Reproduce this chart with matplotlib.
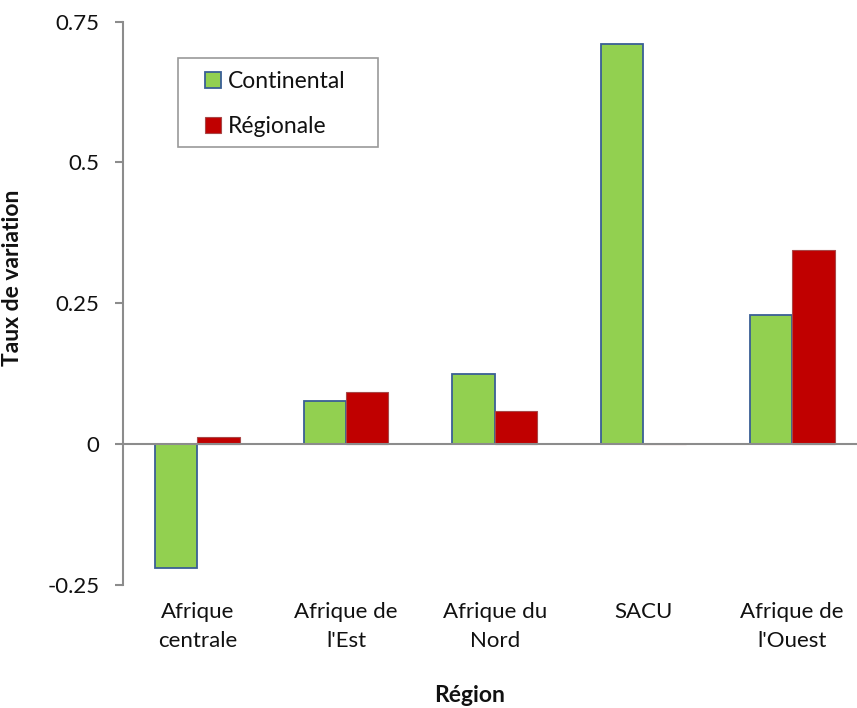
import matplotlib
matplotlib.use("Agg")
import matplotlib.pyplot as plt
from matplotlib.patches import Patch, Rectangle
import numpy as np

plt.rcParams['font.family'] = ['Lato', 'DejaVu Sans']

regions = ["Afrique\ncentrale", "Afrique de\nl'Est", "Afrique du\nNord", "SACU", "Afrique de\nl'Ouest"]
continental = [-0.219, 0.077, 0.125, 0.710, 0.230]
regionale = [0.013, 0.092, 0.059, 0.001, 0.345]
yticks = [-0.25, 0, 0.25, 0.5, 0.75]
ytick_labels = ["-0.25", "0", "0.25", "0.5", "0.75"]

green = "#92d050"
green_edge = "#3a5f95"
red = "#c00000"
red_edge = "#a84848"
axis_grey = "#8c8c8c"
text_col = "#111111"

W, H = 857, 708
ax_l, ax_r, ax_t, ax_b = 123, 857, 21.5, 585

fig = plt.figure(figsize=(W / 100, H / 100), dpi=100)
ax = fig.add_axes([ax_l / W, 1 - ax_b / H, (ax_r - ax_l) / W, (ax_b - ax_t) / H])


def to_axes(px, py):
    return (px - ax_l) / (ax_r - ax_l), (ax_b - py) / (ax_b - ax_t)


x = np.arange(len(regions))
w = 1 / 3.5
ax.bar(x - w / 2, continental, width=w, color=green, edgecolor=green_edge, linewidth=1.3, zorder=3)
ax.bar(x + w / 2, regionale, width=w, color=red, edgecolor=red_edge, linewidth=0.8, zorder=3)

ax.set_xlim(-0.5, 4.437)
ax.set_ylim(-0.25, 0.75)
ax.set_yticks(yticks)
ax.set_yticklabels(ytick_labels)
ax.set_xticks(x)
ax.set_xticklabels(regions, linespacing=1.6)

for s in ["top", "right", "bottom"]:
    ax.spines[s].set_visible(False)
ax.spines["left"].set_color(axis_grey)
ax.spines["left"].set_linewidth(1.5)
ax.axhline(0, color=axis_grey, linewidth=1.5, zorder=4)

ax.tick_params(axis="y", direction="out", length=6, width=1.5, color=axis_grey,
               labelsize=16, pad=11, labelcolor=text_col)
ax.tick_params(axis="x", length=0, labelsize=16, pad=12, labelcolor=text_col)

ax.set_ylabel("Taux de variation", fontsize=16.5, fontweight="bold", color=text_col)
ax.yaxis.set_label_coords(*to_axes(23, 278))
ax.set_xlabel("Région", fontsize=16.5, fontweight="bold", color=text_col, va="bottom")
ax.xaxis.set_label_coords(*to_axes(470, 706))

# legend frame drawn separately so its padding can be wider than tall
fx0, fy0 = to_axes(178, 147)
fx1, fy1 = to_axes(378, 58)
ax.add_patch(Rectangle((fx0, fy0), fx1 - fx0, fy1 - fy0, transform=ax.transAxes,
                       facecolor="white", edgecolor="#9a9a9a", linewidth=1.2,
                       zorder=5, clip_on=False))
handles = [Patch(facecolor=green, edgecolor=green_edge, linewidth=1.3),
           Patch(facecolor=red, edgecolor=red_edge, linewidth=0.8)]
leg = ax.legend(handles, ["Continental", "Régionale"], loc="upper left",
                bbox_to_anchor=to_axes(205, 71),
                frameon=False, fontsize=16.5, handlelength=0.7, handleheight=0.7,
                handletextpad=0.3, labelspacing=1.05, borderpad=0, borderaxespad=0)
leg.set_zorder(6)
for t in leg.get_texts():
    t.set_color(text_col)

fig.savefig("out.png", dpi=100)
